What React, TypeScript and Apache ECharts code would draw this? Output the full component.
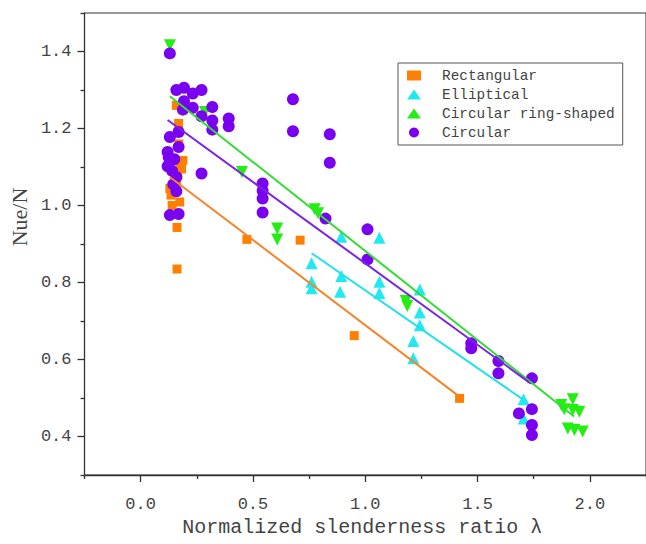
import React, { useEffect, useRef } from "react";
import * as echarts from "echarts";

// ---- data ----
const seriesNames = ["Rectangular", "Elliptical", "Circular ring-shaped", "Circular"];

const rectangular: number[][] = [
  [0.159, 1.26], [0.169, 1.213], [0.165, 1.19], [0.17, 1.16], [0.188, 1.117], [0.176, 1.105],
  [0.182, 1.095], [0.165, 1.08], [0.16, 1.06], [0.13, 1.044], [0.135, 1.027], [0.174, 1.009],
  [0.14, 1.0], [0.162, 0.943], [0.162, 0.835], [0.473, 0.912], [0.71, 0.91], [0.951, 0.662],
  [1.42, 0.499],
];

const elliptical: number[][] = [
  [0.893, 0.919], [1.063, 0.916], [0.761, 0.85], [0.893, 0.817], [0.761, 0.802], [0.761, 0.785],
  [0.888, 0.776], [1.063, 0.802], [1.063, 0.773], [1.243, 0.782], [1.243, 0.722], [1.243, 0.689],
  [1.214, 0.648], [1.214, 0.603], [1.705, 0.497], [1.705, 0.447],
];

const ringShaped: number[][] = [
  [0.13, 1.416], [0.286, 1.243], [0.451, 1.087], [0.775, 0.99], [0.79, 0.98], [0.608, 0.94],
  [0.608, 0.912], [1.18, 0.752], [1.187, 0.739], [1.873, 0.482], [1.924, 0.497], [1.924, 0.469],
  [1.953, 0.464], [1.886, 0.471], [1.902, 0.421], [1.931, 0.417], [1.968, 0.413],
];

const circular: number[][] = [
  [0.13, 1.395], [0.159, 1.3], [0.193, 1.306], [0.232, 1.291], [0.271, 1.3], [0.193, 1.271],
  [0.232, 1.254], [0.188, 1.249], [0.319, 1.256], [0.271, 1.232], [0.319, 1.221], [0.319, 1.197],
  [0.392, 1.226], [0.392, 1.206], [0.13, 1.178], [0.169, 1.191], [0.169, 1.152], [0.12, 1.139],
  [0.137, 1.118], [0.12, 1.102], [0.14, 1.09], [0.15, 1.12], [0.125, 1.125], [0.145, 1.055],
  [0.159, 1.074], [0.159, 1.037], [0.271, 1.083], [0.13, 0.975], [0.169, 0.978],
  [0.678, 1.276], [0.678, 1.193], [0.842, 1.185], [0.842, 1.111], [0.543, 1.057], [0.543, 1.038],
  [0.543, 1.018], [0.543, 0.982], [0.823, 0.966], [1.01, 0.938], [1.01, 0.86], [1.472, 0.642],
  [1.472, 0.629], [1.593, 0.596], [1.593, 0.564], [1.742, 0.551], [1.684, 0.46], [1.742, 0.471],
  [1.742, 0.43], [1.742, 0.404],
];

// fitted lines: [start, end]
const fitRectangular: number[][] = [[0.13, 1.074], [1.421, 0.503]];
const fitElliptical: number[][] = [[0.761, 0.876], [1.705, 0.495]];
const fitRingShaped: number[][] = [[0.13, 1.284], [1.93, 0.452]];
const fitCircular: number[][] = [[0.12, 1.222], [1.727, 0.542]];

const xMajorTicks = [0, 0.5, 1.0, 1.5, 2.0];
const xMinorTicks = [-0.25, 0.25, 0.75, 1.25, 1.75, 2.25];
const yMajorTicks = [0.4, 0.6, 0.8, 1.0, 1.2, 1.4];
const yMinorTicks = [0.3, 0.5, 0.7, 0.9, 1.1, 1.3, 1.5];

const colors = ["#FF8000", "#22E8F0", "#22EE11", "#7A00F0"];
const lineColors = ["#F5852A", "#22E0EE", "#33DD33", "#7A22E6"];

const MONO = "'Liberation Mono', 'DejaVu Sans Mono', monospace";
const SERIF = "'Liberation Serif', 'DejaVu Serif', serif";

export default function App() {
  const ref = useRef<HTMLDivElement>(null);
  useEffect(() => {
    if (!ref.current) return;
    const chart = echarts.init(ref.current, undefined, { renderer: "svg" });
    const axisColor = "#333";
    const scatterDefs = [
      { name: seriesNames[0], data: rectangular, symbol: "rect", size: 9, rot: 0 },
      { name: seriesNames[1], data: elliptical, symbol: "triangle", size: 12, rot: 0 },
      { name: seriesNames[2], data: ringShaped, symbol: "triangle", size: 12, rot: 180 },
      { name: seriesNames[3], data: circular, symbol: "circle", size: 12, rot: 0 },
    ];
    const fits = [fitRectangular, fitElliptical, fitRingShaped, fitCircular];
    const option: any = {
      animation: false,
      grid: {
        left: 84, top: 13, bottom: 69, right: -10,
        show: true, borderColor: axisColor, borderWidth: 1,
      },
      legend: {
        orient: "vertical",
        left: 398, top: 63,
        padding: [3, 8, 3, 9],
        itemWidth: 14, itemHeight: 10, itemGap: 0,
        borderColor: "#555", borderWidth: 1,
        data: seriesNames,
        textStyle: { fontFamily: MONO, fontSize: 14.4, color: "#444", lineHeight: 19, padding: [0, 0, 0, 16] },
      },
      xAxis: [
        {
          type: "value", min: -0.25, max: 2.25, position: "bottom",
          axisLine: { onZero: false, lineStyle: { color: axisColor, width: 1.3 } },
          axisTick: { show: true, length: 7, customValues: xMajorTicks, lineStyle: { color: axisColor, width: 1.3 } },
          axisLabel: {
            customValues: xMajorTicks, margin: 21, fontFamily: MONO, fontSize: 17, color: "#444",
            formatter: (v: number) => v.toFixed(1),
          },
          splitLine: { show: false },
          name: "Normalized slenderness ratio λ", nameLocation: "middle", nameGap: 40,
          nameTextStyle: { fontFamily: MONO, fontSize: 20, color: "#444", padding: [0, 6, 0, 0] },
        },
        {
          type: "value", min: -0.25, max: 2.25, position: "bottom",
          axisLine: { show: false, onZero: false },
          axisTick: { show: true, length: 4, customValues: xMinorTicks, lineStyle: { color: axisColor, width: 1.3 } },
          axisLabel: { show: false },
          splitLine: { show: false },
        },
      ],
      yAxis: [
        {
          type: "value", min: 0.3, max: 1.5, position: "left",
          axisLine: { show: true, onZero: false, lineStyle: { color: axisColor, width: 1.3 } },
          axisTick: { show: true, length: 7, customValues: yMajorTicks, lineStyle: { color: axisColor, width: 1.3 } },
          axisLabel: {
            customValues: yMajorTicks, margin: 13, fontFamily: MONO, fontSize: 17, color: "#444",
            formatter: (v: number) => v.toFixed(1),
          },
          splitLine: { show: false },
          name: "Nue/N", nameLocation: "middle", nameGap: 49,
          nameTextStyle: { fontFamily: SERIF, fontSize: 22, color: "#444", padding: [0, 0, 0, 54] },
        },
        {
          type: "value", min: 0.3, max: 1.5, position: "left",
          axisLine: { show: false, onZero: false },
          axisTick: { show: true, length: 4, customValues: yMinorTicks, lineStyle: { color: axisColor, width: 1.3 } },
          axisLabel: { show: false },
          splitLine: { show: false },
        },
      ],
      series: [
        ...scatterDefs.map((d, i) => ({
          type: "scatter",
          name: d.name,
          data: d.data,
          symbol: d.symbol,
          symbolSize: d.size,
          symbolRotate: d.rot,
          itemStyle: { color: colors[i], opacity: 1 },
          z: 2 + i,
        })),
        ...fits.map((f, i) => ({
          type: "line",
          name: "fit-" + seriesNames[i],
          data: f,
          showSymbol: false,
          symbol: "none",
          lineStyle: { color: lineColors[i], width: 2 },
          z: 10,
          silent: true,
        })),
      ],
    };
    chart.setOption(option);
    return () => chart.dispose();
  }, []);
  return <div ref={ref} style={{ width: 646, height: 544, position: "absolute", left: 0, top: 0 }} />;
}
